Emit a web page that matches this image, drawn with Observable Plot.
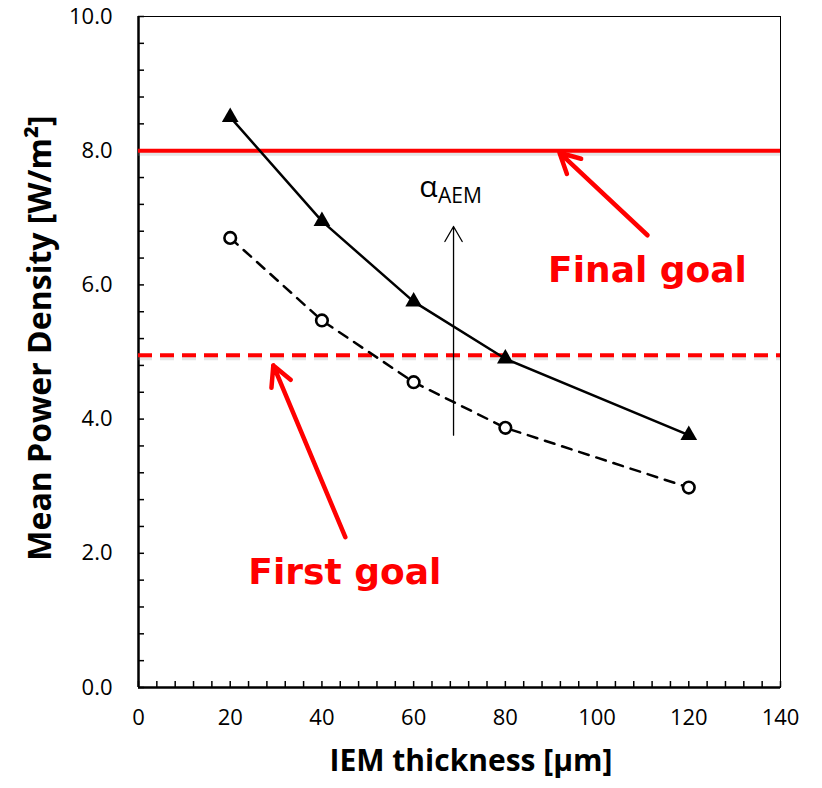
<!DOCTYPE html>
<html>
<head>
<meta charset="utf-8">
<script src="https://cdn.jsdelivr.net/npm/d3@7"></script>
<script src="https://cdn.jsdelivr.net/npm/@observablehq/plot@0.6"></script>
<style>
  html, body { margin: 0; padding: 0; background: #fff; }
  svg { display: block; }
</style>
</head>
<body>
<div id="chart"></div>
<script>
// ---- data ----
const thickness = [20, 40, 60, 80, 120];
const seriesHigh = [8.5, 6.95, 5.75, 4.9, 3.76];   // triangles, solid
const seriesLow = [6.7, 5.47, 4.55, 3.87, 2.98];   // circles, dashed
const finalGoal = 8.0;
const firstGoal = 4.95;
const xTicks = [0, 20, 40, 60, 80, 100, 120, 140];
const yTicks = [0, 2, 4, 6, 8, 10];
const xMinor = d3.range(0, 141, 4);
const yMinor = d3.range(0, 10.01, 0.4).map(v => +v.toFixed(2));

// annotations
const alphaArrow = [{x1: 68.7, y1: 3.76, x2: 68.7, y2: 6.87}];
const redArrows = [
  {x1: 111.0, y1: 6.74, x2: 91.8, y2: 7.97},
  {x1: 45.1, y1: 2.24, x2: 29.4, y2: 4.80}
];
const goalLabels = [
  {x: 111.0, y: 6.21, text: "Final goal"},
  {x: 45.0, y: 1.71, text: "First goal"}
];

const high = thickness.map((t, i) => ({x: t, y: seriesHigh[i]}));
const low = thickness.map((t, i) => ({x: t, y: seriesLow[i]}));

const font = "'Open Sans', 'Liberation Sans', sans-serif";

const chart = Plot.plot({
  width: 822,
  height: 788,
  marginLeft: 138,
  marginRight: 42,
  marginTop: 16,
  marginBottom: 101,
  style: {fontFamily: font, background: "#fff", overflow: "visible"},
  x: {domain: [0, 140]},
  y: {domain: [0, 10]},
  marks: [
    Plot.frame({stroke: "black", strokeWidth: 1}),
    // minor/major inward ticks
    Plot.axisX(xMinor, {anchor: "bottom", tickSize: -6, text: null, strokeWidth: 1.5, label: null}),
    Plot.axisY(yMinor, {anchor: "left", tickSize: -6, text: null, strokeWidth: 1.5, label: null}),
    Plot.axisX(xTicks, {anchor: "bottom", tickSize: 0, tickPadding: 22, fontSize: 22, fill: "black",
      tickFormat: d => String(d), label: null}),
    Plot.axisY(yTicks, {anchor: "left", tickSize: 0, tickPadding: 26, fontSize: 22, fill: "black",
      tickFormat: d => d.toFixed(1), label: null}),
    Plot.ruleX([0], {stroke: "black", strokeWidth: 2.5}),
    Plot.ruleY([0], {stroke: "black", strokeWidth: 2.5}),
    // goal lines with soft shadow
    Plot.ruleY([finalGoal], {stroke: "#999", strokeWidth: 4, dy: 3, strokeOpacity: 0.25}),
    Plot.ruleY([firstGoal], {stroke: "#999", strokeWidth: 4, dy: 3, strokeOpacity: 0.25, strokeDasharray: "14,8"}),
    Plot.ruleY([finalGoal], {stroke: "#ff0000", strokeWidth: 4}),
    Plot.ruleY([firstGoal], {stroke: "#ff0000", strokeWidth: 4, strokeDasharray: "14,8"}),
    // series
    Plot.line(high, {x: "x", y: "y", stroke: "black", strokeWidth: 2.5}),
    Plot.line(low, {x: "x", y: "y", stroke: "black", strokeWidth: 2.5, strokeDasharray: "10,8"}),
    Plot.dot(high, {x: "x", y: "y", symbol: "triangle", r: 6.2, fill: "black"}),
    Plot.dot(low, {x: "x", y: "y", r: 5.8, fill: "white", stroke: "black", strokeWidth: 2.6}),
    // alpha arrow
    Plot.arrow(alphaArrow, {x1: "x1", y1: "y1", x2: "x2", y2: "y2", stroke: "black", strokeWidth: 1.3, headLength: 20, headAngle: 60}),
    Plot.text(["α"], {x: 63.2, y: 7.45, text: d => d, fontSize: 30, fill: "black"}),
    Plot.text(["AEM"], {x: 65.3, y: 7.32, text: d => d, fontSize: 21, textAnchor: "start", fill: "black"}),
    // red arrows
    Plot.arrow(redArrows, {x1: "x1", y1: "y1", x2: "x2", y2: "y2", stroke: "#ff0000", strokeWidth: 4.5, headLength: 7.5, headAngle: 55}),
    Plot.text(goalLabels, {x: "x", y: "y", text: "text", fill: "#ff0000", fontSize: 36, fontWeight: "bold",
      fontFamily: "'DejaVu Sans', sans-serif"}),
    // axis titles
    Plot.text(["IEM thickness [µm]"], {x: 72.5, y: 0, dy: 83, text: d => d, fontSize: 30, fontWeight: "bold", fill: "black", frameAnchor: "bottom"}),
    Plot.text(["Mean Power Density [W/m²]"], {frameAnchor: "left", textAnchor: "middle", dx: -98, dy: -14, rotate: -90, text: d => d, fontSize: 32, fontWeight: "bold", fill: "black"})
  ]
});
document.getElementById("chart").appendChild(chart);
</script>
</body>
</html>
